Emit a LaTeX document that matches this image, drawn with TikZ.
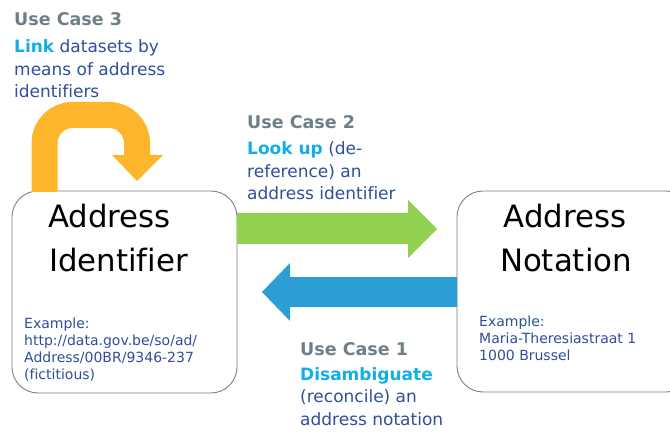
\documentclass[tikz,border=0pt]{standalone}
\usepackage{fontspec}
\setmainfont[Ligatures=NoCommon]{DejaVu Sans}
\definecolor{casegray}{HTML}{6E7F87}
\definecolor{keycyan}{HTML}{12AEEA}
\definecolor{bodyblue}{HTML}{2F4E9C}
\definecolor{linkorange}{HTML}{FDB62C}
\definecolor{lookgreen}{HTML}{92D050}
\definecolor{disblue}{HTML}{2C9ED5}
\definecolor{boxline}{HTML}{7F7F7F}
\tikzset{
  entitybox/.style={draw=boxline, line width=0.9pt, rounded corners=26pt, fill=white},
  casetext/.style={anchor=base west, inner sep=0pt, font=\fontsize{17}{22.5}\selectfont, text=bodyblue, align=left},
  casehead/.style={anchor=base west, inner sep=0pt, font=\bfseries\fontsize{17.5}{22}\selectfont, text=casegray},
  titletext/.style={inner sep=0pt, font=\fontsize{30.8}{44}\selectfont, text=black},
  exampletext/.style={anchor=base west, inner sep=0pt, font=\fontsize{14}{16.7}\selectfont, text=bodyblue, align=left},
}
\newcommand{\kw}[1]{\textcolor{keycyan}{\bfseries #1}}
\begin{document}
\begin{tikzpicture}[x=1pt,y=-1pt]
\useasboundingbox (0,0) rectangle (670,433);

% the two entity boxes
\draw[entitybox] (12,191) rectangle (237,393);
\draw[entitybox] (457,191) rectangle (692,392);
\coordinate (idbox-e) at (237,229);
\coordinate (notbox-w) at (457,292);

% Use Case 3: loop arrow on top of the identifier box
\draw[linkorange, line width=26pt, rounded corners=28pt]
  (44.5,192) -- (44.5,115) -- (137,115) -- (137,156);
\fill[linkorange] (112,155) -- (163,155) -- (137,181) -- cycle;

% Use Case 2: identifier -> notation
\fill[lookgreen] (idbox-e |- 0,213) -- (408,213) -- (408,200) -- (437,229)
  -- (408,258) -- (408,244) -- (idbox-e |- 0,244) -- cycle;

% Use Case 1: notation -> identifier
\fill[disblue] (notbox-w |- 0,277) -- (290,277) -- (290,263) -- (262,292)
  -- (290,321) -- (290,307) -- (notbox-w |- 0,307) -- cycle;

% box titles
\node[titletext, anchor=base west] (idtitle1) at (48,227) {Address};
\node[titletext, anchor=base west] (idtitle2) at (49,271) {Identifier};
\node[titletext, anchor=base] (nttitle1) at (565,227) {Address};
\node[titletext, anchor=base] (nttitle2) at (566,271) {Notation};

% examples (anchored at the baseline of the last line)
\node[exampletext] (idex) at (24,379) {Example:\\http://data.gov.be/so/ad/\\Address/00BR/9346-237\\(fictitious)};
\node[exampletext] (ntex) at (479,360) {Example:\\Maria-Theresiastraat 1\\1000 Brussel};

% use case captions
\node[casehead] (uc3) at (14,26) {Use Case 3};
\node[casetext] (uc3t) at (14,98) {\kw{Link} datasets by\\means of address\\identifiers};

\node[casehead] (uc2) at (247,129) {Use Case 2};
\node[casetext] (uc2t) at (247,200) {\kw{Look up} (de-\\reference) an\\address identifier};

\node[casehead] (uc1) at (300,355) {Use Case 1};
\node[casetext] (uc1t) at (300,425) {\kw{Disambiguate}\\(reconcile) an\\address notation};
\end{tikzpicture}
\end{document}
